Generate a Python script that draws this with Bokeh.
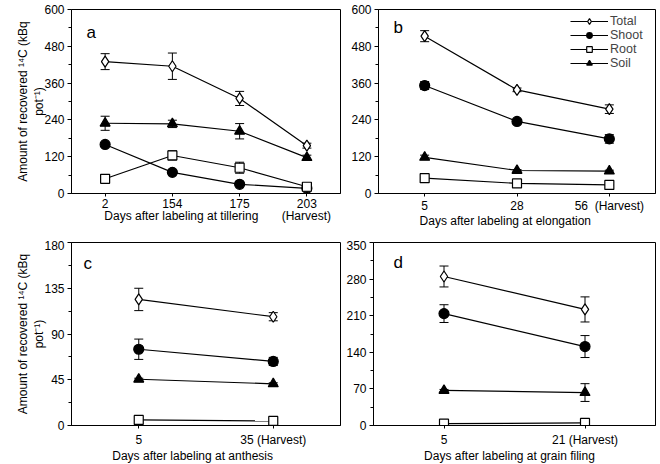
from bokeh.plotting import figure
from bokeh.models import (FactorRange, Range1d, FixedTicker, Whisker, TeeHead,
                          ColumnDataSource, Legend, LegendItem, Label)
from bokeh.layouts import column, row
from bokeh.embed import file_html
from bokeh.resources import INLINE

NB = "\u00a0"

# ---------------- data ----------------
series_names = ["Total", "Shoot", "Root", "Soil"]

# panel a: labeling at tillering
a_cats = ["2", "154", "175", "203"]
a_total = [430, 415, 310, 156]
a_total_err = [26, 43, 23, 8]
a_shoot = [160, 69, 30, 17]
a_shoot_err = [0, 0, 0, 0]
a_root = [48, 124, 84, 22]
a_root_err = [0, 15, 18, 6]
a_soil = [229, 227, 203, 117]
a_soil_err = [23, 12, 25, 8]
a_yticks = [0, 120, 240, 360, 480, 600]

# panel b: labeling at elongation
b_cats = ["5", "28", "56" + NB + NB + "(Harvest)"]
b_total = [513, 338, 275]
b_total_err = [18, 6, 14]
b_shoot = [352, 235, 178]
b_shoot_err = [13, 5, 14]
b_root = [50, 33, 28]
b_root_err = [3, 2, 2]
b_soil = [118, 75, 73]
b_soil_err = [7, 3, 3]
b_yticks = [0, 120, 240, 360, 480, 600]

# panel c: labeling at anthesis
c_cats = ["5", "35 (Harvest)"]
c_total = [124, 107]
c_total_err = [11, 4]
c_shoot = [75, 63]
c_shoot_err = [10, 4]
c_root = [5.5, 4.5]
c_root_err = [0, 0]
c_soil = [45.5, 41]
c_soil_err = [1, 1]
c_yticks = [0, 45, 90, 135, 180]

# panel d: labeling at grain filing
d_cats = ["5", "21 (Harvest)"]
d_total = [285, 222]
d_total_err = [20, 24]
d_shoot = [214, 151]
d_shoot_err = [17, 21]
d_root = [3.5, 5]
d_root_err = [0, 0]
d_soil = [67, 63]
d_soil_err = [2, 17]
d_yticks = [0, 70, 140, 210, 280, 350]

YLABEL = "Amount of recovered \u00b9\u2074C (kBq\npot\u207b\u00b9)"
A_XLABEL = NB * 7 + "Days after labeling at tillering" + NB * 7 + "(Harvest)"
B_XLABEL = "Days after labeling at elongation" + NB * 7
C_XLABEL = "Days after labeling at anthesis" + NB * 8
D_XLABEL = "Days after labeling at grain filing" + NB * 3
FONT = "Liberation Sans"

MARKERS = {
    "Total": dict(marker="diamond", size=11, fill_color="white"),
    "Shoot": dict(marker="circle", size=10, fill_color="black"),
    "Root": dict(marker="square", size=9, fill_color="white"),
    "Soil": dict(marker="triangle", size=10, fill_color="black"),
}


def make_panel(cats, series, yticks, frame_w, frame_h, borders, letter, letter_pos,
               xlabel=None, ylabel=None, tick_standoff=2, label_standoff=-2):
    bl, br, bt, bb = borders
    p = figure(x_range=FactorRange(*cats), y_range=Range1d(yticks[0], yticks[-1]),
               frame_width=frame_w, frame_height=frame_h,
               min_border_left=bl, min_border_right=br, min_border_top=bt, min_border_bottom=bb,
               output_backend="svg", toolbar_location=None)
    p.xgrid.visible = False
    p.ygrid.visible = False
    p.outline_line_color = "black"
    p.outline_line_width = 1
    p.outline_line_alpha = 1
    p.background_fill_color = "white"
    p.border_fill_color = "white"

    minor = [(yticks[i] + yticks[i + 1]) / 2 for i in range(len(yticks) - 1)]
    p.yaxis.ticker = FixedTicker(ticks=yticks, minor_ticks=minor)
    for ax in (p.xaxis[0], p.yaxis[0]):
        ax.axis_line_color = "black"
        ax.axis_line_width = 1
        ax.major_tick_line_color = "black"
        ax.minor_tick_line_color = "black"
        ax.major_tick_in = 0
        ax.minor_tick_in = 0
        ax.major_label_text_font = FONT
        ax.major_label_text_font_size = "12px"
        ax.major_label_text_color = "black"
        ax.axis_label_text_font = FONT
        ax.axis_label_text_font_size = "12px"
        ax.axis_label_text_font_style = "normal"
        ax.axis_label_text_color = "black"
    p.yaxis.major_tick_out = 4
    p.yaxis.minor_tick_out = 3
    p.yaxis.major_label_standoff = 3
    p.xaxis.major_tick_out = 3
    p.xaxis.major_label_standoff = tick_standoff
    p.xaxis.axis_label_standoff = label_standoff
    p.yaxis.axis_label_standoff = -5
    if xlabel:
        p.xaxis.axis_label = xlabel
    if ylabel:
        p.yaxis.axis_label = ylabel

    items = []
    for name, (vals, errs) in series.items():
        src = ColumnDataSource(dict(x=cats, y=vals))
        wx = [c for c, e in zip(cats, errs) if e > 0]
        wu = [v + e for v, e in zip(vals, errs) if e > 0]
        wl = [v - e for v, e in zip(vals, errs) if e > 0]
        if wx:
            wsrc = ColumnDataSource(dict(x=wx, upper=wu, lower=wl))
            w = Whisker(base="x", upper="upper", lower="lower", source=wsrc,
                        line_color="black", line_width=1, level="underlay",
                        upper_head=TeeHead(size=9, line_color="black", line_width=1),
                        lower_head=TeeHead(size=9, line_color="black", line_width=1))
            p.add_layout(w)
        lr = p.line("x", "y", source=src, line_color="black", line_width=1.2)
        m = MARKERS[name]
        sr = p.scatter("x", "y", source=src, marker=m["marker"], size=m["size"],
                       fill_color=m["fill_color"], line_color="black", line_width=1.2)
        items.append(LegendItem(label=name, renderers=[lr, sr]))

    lx, ly = letter_pos
    p.add_layout(Label(x=lx, y=ly, x_units="screen", y_units="screen", text=letter,
                       text_font=FONT, text_font_size="17px", text_color="black",
                       text_baseline="alphabetic"))
    return p, items


# Panel a
pa, _ = make_panel(a_cats,
                   {"Total": (a_total, a_total_err), "Soil": (a_soil, a_soil_err),
                    "Shoot": (a_shoot, a_shoot_err), "Root": (a_root, a_root_err)},
                   a_yticks, 269, 184, (71, 2, 9, 47), "a", (15, 161),
                   xlabel=A_XLABEL, ylabel=YLABEL)

# Panel b
pb, items_b = make_panel(b_cats,
                         {"Total": (b_total, b_total_err), "Shoot": (b_shoot, b_shoot_err),
                          "Root": (b_root, b_root_err), "Soil": (b_soil, b_soil_err)},
                         b_yticks, 277, 184, (36, 3, 9, 47), "b", (15, 166),
                         xlabel=B_XLABEL)
legend = Legend(items=items_b, location=(192, 123), padding=0, margin=0, spacing=0,
                glyph_width=38, glyph_height=14, label_height=14, label_standoff=2,
                label_text_font=FONT, label_text_font_size="12.5px",
                label_text_baseline="middle", border_line_alpha=0,
                background_fill_alpha=0)
pb.add_layout(legend)

# Panel c
pc, _ = make_panel(c_cats,
                   {"Total": (c_total, c_total_err), "Shoot": (c_shoot, c_shoot_err),
                    "Soil": (c_soil, c_soil_err), "Root": (c_root, c_root_err)},
                   c_yticks, 269, 183, (71, 2, 2, 37), "c", (12, 162),
                   xlabel=C_XLABEL, ylabel=YLABEL,
                   tick_standoff=4, label_standoff=-1)

# Panel d
pd_, _ = make_panel(d_cats,
                    {"Total": (d_total, d_total_err), "Shoot": (d_shoot, d_shoot_err),
                     "Soil": (d_soil, d_soil_err), "Root": (d_root, d_root_err)},
                    d_yticks, 282, 183, (31, 3, 2, 37), "d", (20, 163),
                    xlabel=D_XLABEL,
                    tick_standoff=4, label_standoff=-1)

layout = column(row(pa, pb), row(pc, pd_))
open("out.html", "w").write(file_html(layout, INLINE))
